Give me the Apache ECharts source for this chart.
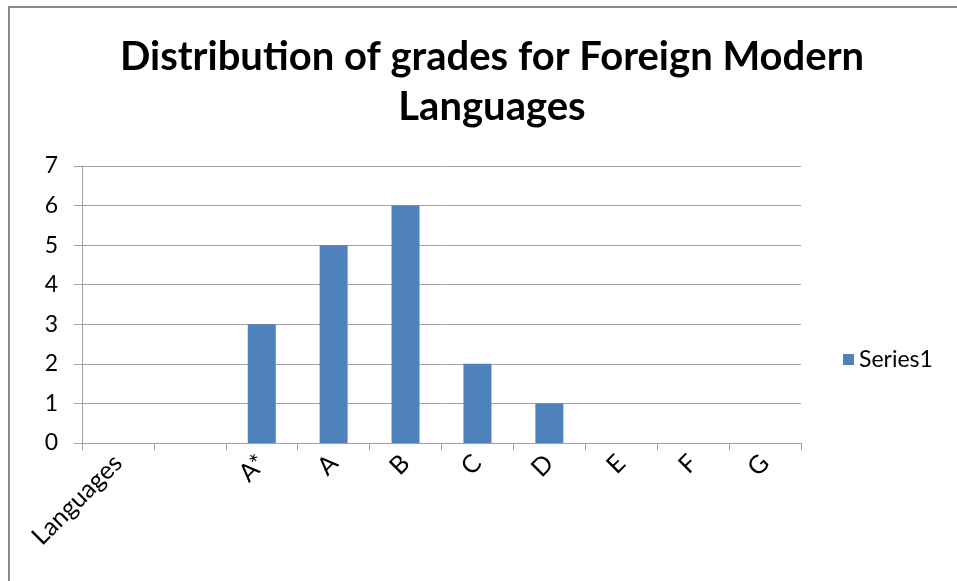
<!DOCTYPE html>
<html>
<head>
<meta charset="utf-8">
<script src="https://cdn.jsdelivr.net/npm/echarts@6/dist/echarts.min.js"></script>
<style>
  html, body { margin: 0; padding: 0; background: #fff; }
  #frame {
    position: absolute; left: 8px; top: 6px; width: 949px; height: 575px;
    border-top: 2px solid #888; border-left: 2px solid #888; box-sizing: border-box;
  }
  #chart { position: absolute; left: 0; top: 0; width: 957px; height: 581px; }
</style>
</head>
<body>
<div id="frame"></div>
<div id="chart"></div>
<script>
// grade categories (first two are empty placeholders in the source sheet)
const categories = ["Languages", "", "A*", "A", "B", "C", "D", "E", "F", "G"];
const series1 = [null, null, 3, 5, 6, 2, 1, 0, 0, 0];
const yTicks = { min: 0, max: 7, interval: 1 };

const chart = echarts.init(document.getElementById("chart"));
const font = "Lato, 'Open Sans', sans-serif";
const option = {
  animation: false,
  title: {
    text: "Distribution of grades for Foreign Modern\nLanguages",
    left: 487,
    top: 27,
    textAlign: "center",
    textStyle: {
      fontFamily: font,
      fontWeight: "bold",
      fontSize: 40,
      lineHeight: 50,
      color: "#000",
    },
  },
  legend: {
    left: 838,
    top: 343,
    itemWidth: 11,
    itemHeight: 11,
    itemGap: 10,
    icon: "rect",
    textStyle: { fontFamily: font, fontSize: 23, color: "#000" },
  },
  grid: { left: 82, right: 156, top: 166, bottom: 138 },
  xAxis: {
    type: "category",
    data: categories,
    axisLine: { lineStyle: { color: "#a0a0a0", width: 1 } },
    axisTick: { show: true, length: 7, lineStyle: { color: "#a0a0a0" } },
    axisLabel: {
      rotate: 45,
      interval: 0,
      margin: 16,
      fontFamily: font,
      fontSize: 25,
      color: "#000",
    },
  },
  yAxis: {
    type: "value",
    min: yTicks.min,
    max: yTicks.max,
    interval: yTicks.interval,
    axisLine: { show: true, lineStyle: { color: "#a0a0a0", width: 1 } },
    axisTick: { show: true, inside: false, length: 8, lineStyle: { color: "#a0a0a0" } },
    splitLine: { lineStyle: { color: "#a0a0a0", width: 1 } },
    axisLabel: { margin: 24, fontFamily: font, fontSize: 23, color: "#000" },
  },
  series: [
    {
      name: "Series1",
      type: "bar",
      data: series1,
      barWidth: 28,
      itemStyle: { color: "#4f81bd" },
    },
  ],
};
chart.setOption(option);
</script>
</body>
</html>
